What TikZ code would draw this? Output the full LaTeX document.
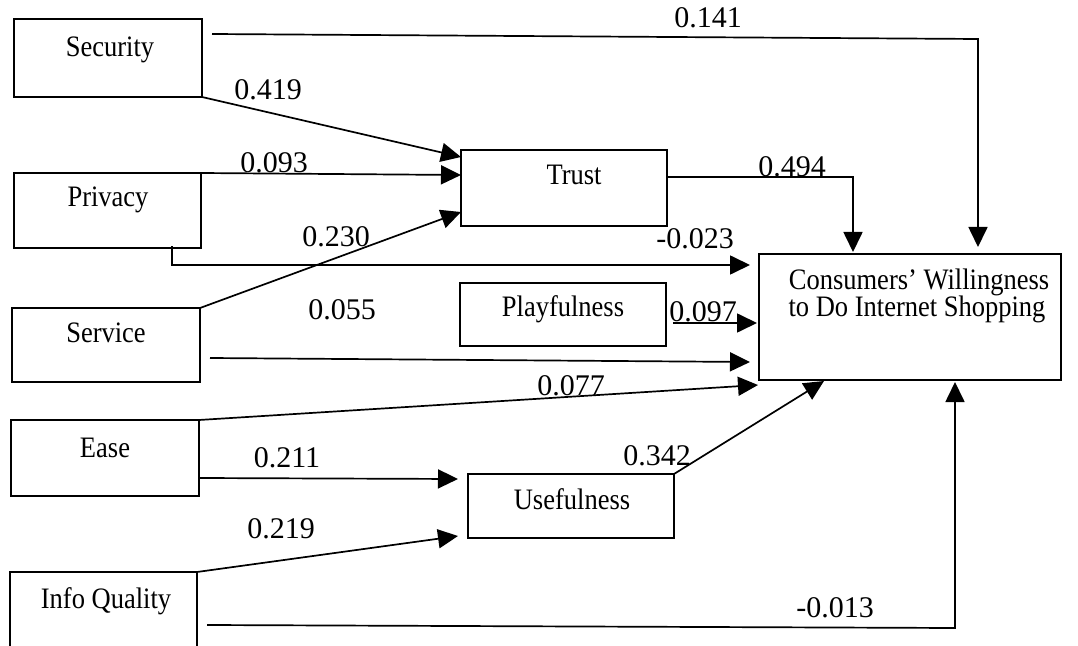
\documentclass[tikz,border=0pt]{standalone}
\usepackage{graphicx}
\usepackage{fontspec}
\setmainfont{Liberation Serif}
\usetikzlibrary{arrows.meta}
\newcommand{\tallbox}[1]{\scalebox{1}[1.12]{#1}}
\begin{document}
\begin{tikzpicture}[x=1bp,y=-1bp,
  box/.style={draw, line width=1.7bp, inner sep=0pt, outer sep=0pt},
  lbl/.style={anchor=base, inner sep=0pt, font=\fontsize{26.5bp}{29bp}\selectfont},
  coef/.style={anchor=base, inner sep=0pt, font=\fontsize{30bp}{32bp}\selectfont},
  path/.style={line width=1.7bp, -{Triangle[length=20bp,width=19bp]}}]
\useasboundingbox (0,0) rectangle (1078,646);
\fill[white] (0,0) rectangle (1078,646);
\clip (0,0) rectangle (1078,646);

% construct boxes
\node[box, minimum width=188bp, minimum height=78bp]  (secu)  at (108,58)    {};
\node[box, minimum width=187bp, minimum height=75bp]  (priv)  at (107.5,210.5) {};
\node[box, minimum width=188bp, minimum height=74bp]  (serv)  at (106,345)   {};
\node[box, minimum width=188bp, minimum height=76bp]  (ease)  at (105,458)   {};
\node[box, minimum width=187bp, minimum height=128bp] (info)  at (103.5,636) {};
\node[box, minimum width=206bp, minimum height=76bp]  (trust) at (564,188)   {};
\node[box, minimum width=206bp, minimum height=63bp]  (play)  at (563,314.5) {};
\node[box, minimum width=206bp, minimum height=64bp]  (usef)  at (571,506)   {};
\node[box, minimum width=302bp, minimum height=126bp] (cons)  at (910,317)   {};

% box captions
\node[lbl] (tSecu)  at (110,57)  {\tallbox{Security}};
\node[lbl] (tPriv)  at (108,207) {\tallbox{Privacy}};
\node[lbl] (tServ)  at (106,342) {\tallbox{Service}};
\node[lbl] (tEase)  at (105,457) {\tallbox{Ease}};
\node[lbl] (tInfo)  at (106,608) {\tallbox{Info Quality}};
\node[lbl] (tTrust) at (574,185) {\tallbox{Trust}};
\node[lbl] (tPlay)  at (563,317) {\tallbox{Playfulness}};
\node[lbl] (tUsef)  at (572,509) {\tallbox{Usefulness}};
\node[lbl] (tConsA) at (919,290) {\tallbox{Consumers’ Willingness}};
\node[lbl] (tConsB) at (917,317) {\tallbox{to Do Internet Shopping}};

% paths into Trust
\draw[path] (secu.south east) -- ([yshift=-7bp]trust.north west);
\draw[path] (priv.north east) -- ([yshift=-25bp]trust.north west);
\draw[path] (serv.north east) -- ([yshift=14bp]trust.south west);

% paths into Usefulness
\draw[path] ([yshift=-20bp]ease.east) -- ([xshift=-10bp,yshift=27bp]usef.west);
\draw[path] (info.north east) -- ([xshift=-10bp,yshift=-30bp]usef.west);

% paths into willingness
\draw[path] ([xshift=10bp,yshift=-15bp]secu.north east) -- ++(766,5)
  -- ([xshift=68bp,yshift=7bp]cons.north);
\draw[path] ([yshift=11bp]trust.east) -| ([xshift=-57bp,yshift=2bp]cons.north);
\draw[path] ([xshift=64.5bp,yshift=2bp]priv.south) |- ([xshift=-9bp,yshift=52bp]cons.west);
\draw[path] ([xshift=7bp,yshift=-8.5bp]play.east) -- ([xshift=-2bp,yshift=-6bp]cons.west);
\draw[path] ([xshift=10bp,yshift=-13bp]serv.east) -- ([xshift=-9bp,yshift=-45bp]cons.west);
\draw[path] (ease.north east) -- ([xshift=-1bp,yshift=-68bp]cons.west);
\draw[path] (usef.north east) -- ([xshift=-86bp,yshift=-1bp]cons.south);
\draw[path] ([xshift=10bp,yshift=-53bp]info.north east) -- ++(748,3)
  -- ([xshift=45bp,yshift=-2bp]cons.south);

% path coefficients
\node[coef] (c1)  at (708,28)  {0.141};
\node[coef] (c2)  at (268,100) {0.419};
\node[coef] (c3)  at (274,173) {0.093};
\node[coef] (c4)  at (336,247) {0.230};
\node[coef] (c5)  at (342,320) {0.055};
\node[coef] (c6)  at (695,249) {-0.023};
\node[coef] (c7)  at (792,177) {0.494};
\node[coef] (c8)  at (703,322) {0.097};
\node[coef] (c9)  at (571,395) {0.077};
\node[coef] (c10) at (287,467) {0.211};
\node[coef] (c11) at (281,538) {0.219};
\node[coef] (c12) at (657,465) {0.342};
\node[coef] (c13) at (835,617) {-0.013};
\end{tikzpicture}
\end{document}
